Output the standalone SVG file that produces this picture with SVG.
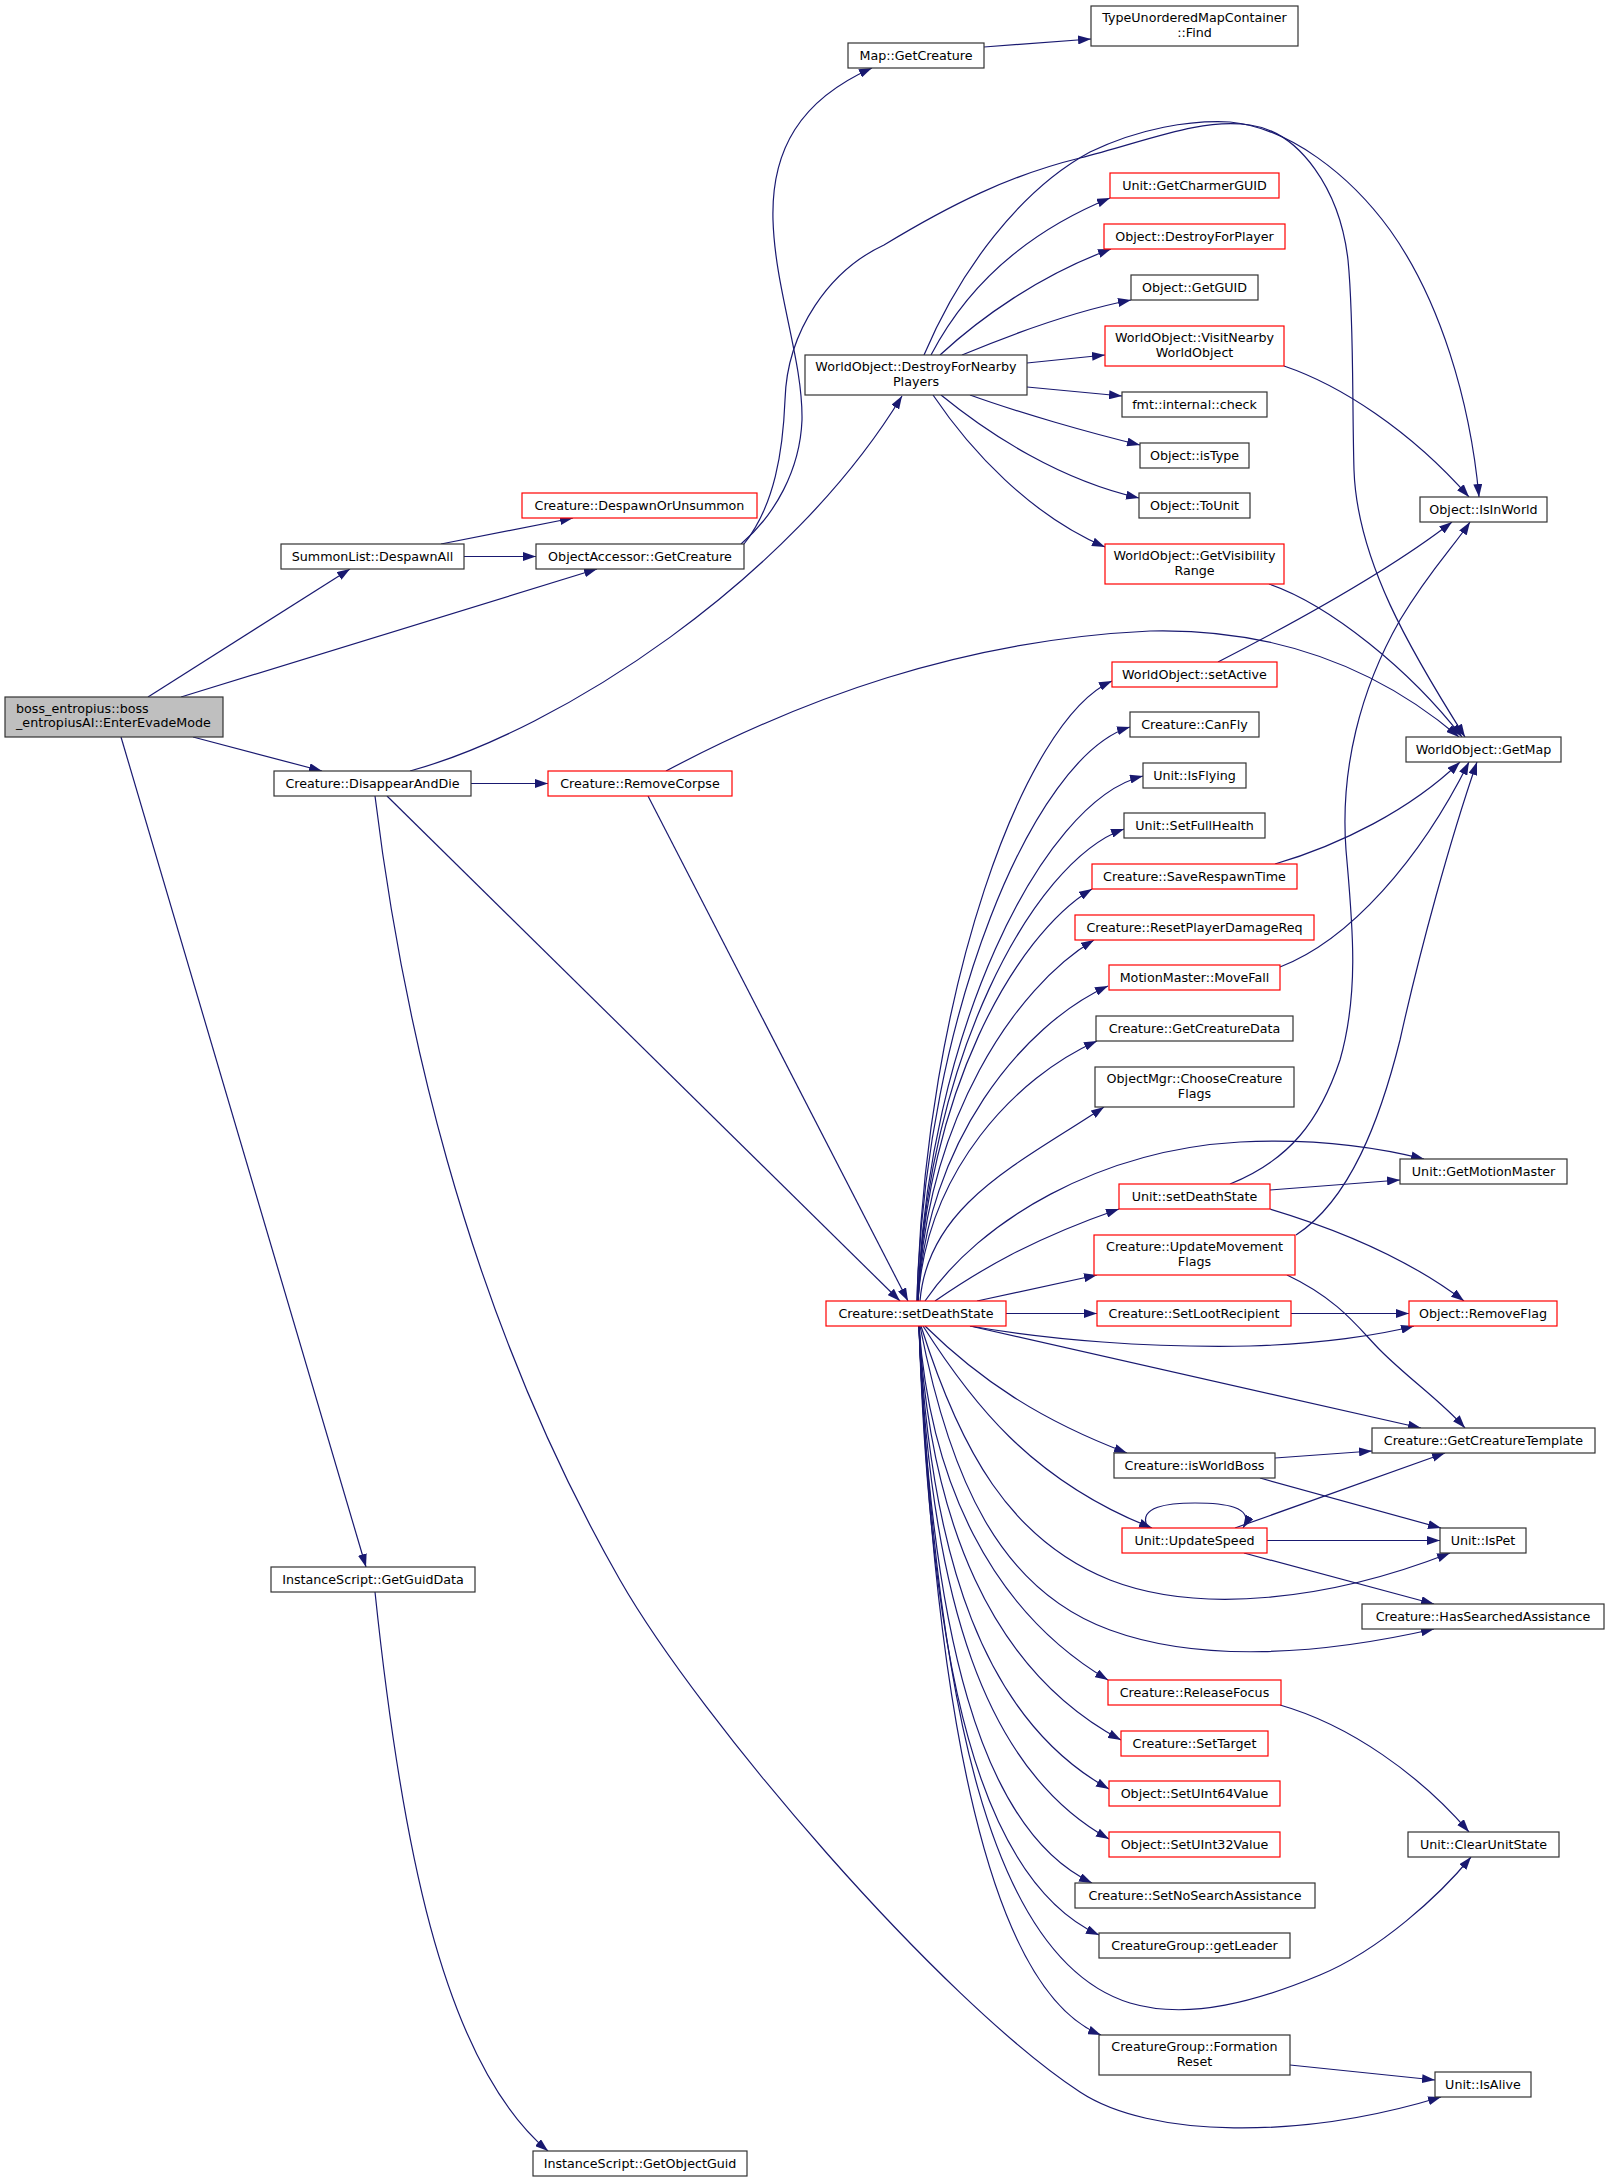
<svg xmlns="http://www.w3.org/2000/svg" width="1609" height="2183" viewBox="0 0 1609 2183">
<style>
.n rect{fill:#fff;stroke:#333;stroke-width:1.2}
.r rect{stroke:#f00}
.m rect{fill:#bfbfbf;stroke:#333;stroke-width:1.2}
text{font-family:"DejaVu Sans","Liberation Sans",sans-serif;font-size:12.7px;fill:#000;text-anchor:middle}
.m text{text-anchor:start}
.e path{fill:none;stroke:#191970;stroke-width:1.2;marker-end:url(#arr)}
</style>
<defs>
<marker id="arr" markerWidth="13" markerHeight="9" refX="13" refY="4.5" orient="auto" markerUnits="userSpaceOnUse"><path d="M0,0 L13,4.5 L0,9 z" fill="#191970"/></marker>
</defs>
<rect width="1609" height="2183" fill="#fff"/>
<g class="e" id="edges">
<path d="M148,697 L350,569"/>
<path d="M181,697 L597,569"/>
<path d="M193,737 L322,771"/>
<path d="M121,737 L366,1567"/>
<path d="M441,544 L573,518"/>
<path d="M464,556.5 L536,556.5"/>
<path d="M741,544 C775,515 800,470 802,420 C803,360 775,290 773,220 C771,150 800,100 872,68"/>
<path d="M744,544 C775,505 783,450 785,400 C787,330 830,270 884,245 C950,205 1010,175 1080,158 C1150,140 1200,118 1250,125 C1300,132 1340,190 1348,260 C1354,320 1352,400 1354,470 C1357,560 1410,650 1465,737"/>
<path d="M984,47 L1091,39"/>
<path d="M924,355 C960,270 1020,190 1090,152 C1140,128 1190,120 1230,122 C1290,128 1350,175 1390,230 C1440,300 1470,400 1479,497"/>
<path d="M931,355 C965,290 1020,235 1110,198"/>
<path d="M940,355 C980,318 1040,275 1111,249"/>
<path d="M962,355 C1010,335 1070,312 1131,300"/>
<path d="M1027,363 L1105,355"/>
<path d="M1027,387 L1122,396"/>
<path d="M970,395 C1020,413 1090,433 1140,445"/>
<path d="M941,395 C990,435 1060,480 1139,498"/>
<path d="M933,395 C970,450 1030,515 1105,547"/>
<path d="M1284,366 C1340,385 1410,430 1469,497"/>
<path d="M1269,584 C1330,605 1410,670 1462,737"/>
<path d="M1218,662 C1290,625 1390,570 1452,522"/>
<path d="M1230,1184 C1290,1160 1320,1120 1340,1060 C1360,990 1352,920 1346,850 C1340,770 1360,690 1400,620 C1430,570 1455,545 1470,522"/>
<path d="M410,771 C560,730 790,580 902,396"/>
<path d="M471,783.5 L548,783.5"/>
<path d="M387,796 L900,1301"/>
<path d="M648,796 L908,1301"/>
<path d="M666,771 C800,700 960,640 1150,631 C1280,628 1380,670 1459,737"/>
<path d="M375,796 C400,1000 460,1300 620,1580 C700,1720 940,2000 1080,2092 C1150,2138 1300,2140 1441,2097"/>
<path d="M375,1592 C400,1830 440,2060 548,2151"/>
<path d="M1275,864 C1340,845 1410,810 1460,762"/>
<path d="M1280,967 C1350,940 1420,860 1469,762"/>
<path d="M1296,1235 C1350,1200 1380,1120 1400,1040 C1420,950 1450,840 1477,762"/>
<path d="M1270,1190 L1400,1180"/>
<path d="M1270,1209 C1340,1230 1410,1260 1464,1301"/>
<path d="M1287,1275 C1340,1300 1360,1330 1380,1350 C1410,1380 1440,1400 1465,1428"/>
<path d="M1291,1313.5 L1409,1313.5"/>
<path d="M1275,1458 L1372,1451"/>
<path d="M1260,1478 L1441,1528"/>
<path d="M1235,1528 L1445,1453"/>
<path d="M1267,1540.5 L1440,1540.5"/>
<path d="M1244,1553 L1434,1604"/>
<path d="M1148,1528 C1136,1506 1170,1503 1195,1503 C1222,1503 1256,1506 1243,1528"/>
<path d="M1280,1705 C1350,1725 1420,1775 1469,1832"/>
<path d="M1290,2065 L1435,2080"/>
<path d="M917,1301 C925,991 1024,720 1112,681"/>
<path d="M917,1301 C925,1014 1034,756 1130,727"/>
<path d="M918,1301 C926,1038 1041,801 1143,776"/>
<path d="M918,1301 C926,1065 1031,862 1124,829"/>
<path d="M918,1301 C926,1095 1014,936 1092,889"/>
<path d="M918,1301 C926,1120 1015,987 1094,940"/>
<path d="M918,1301 C926,1143 1022,1025 1108,986"/>
<path d="M918,1301 C926,1171 1016,1077 1097,1041"/>
<path d="M920,1301 C928,1204 1020,1163 1104,1107"/>
<path d="M925,1301 C980,1220 1100,1150 1240,1142 C1320,1138 1380,1148 1424,1159"/>
<path d="M935,1301 C980,1270 1030,1240 1119,1209"/>
<path d="M977,1301 L1097,1275"/>
<path d="M1006,1313.5 L1097,1313.5"/>
<path d="M970,1326 C1050,1340 1150,1348 1250,1346 C1320,1344 1380,1335 1414,1326"/>
<path d="M970,1326 L1421,1428"/>
<path d="M925,1326 C980,1380 1040,1420 1127,1453"/>
<path d="M923,1326 C970,1400 1030,1480 1152,1528"/>
<path d="M921,1326 C960,1450 1010,1540 1110,1580 C1200,1615 1330,1600 1450,1553"/>
<path d="M920,1326 C950,1480 1000,1590 1110,1630 C1200,1663 1320,1655 1434,1629"/>
<path d="M919,1326 C930,1480 990,1610 1108,1680"/>
<path d="M919,1326 C930,1520 990,1670 1121,1740"/>
<path d="M919,1326 C930,1560 985,1720 1109,1789"/>
<path d="M919,1326 C930,1600 985,1770 1109,1839"/>
<path d="M919,1326 C930,1630 980,1830 1092,1883"/>
<path d="M919,1326 C930,1670 980,1880 1099,1935"/>
<path d="M919,1326 C935,1700 990,1960 1130,2003 C1190,2021 1260,2000 1320,1975 C1380,1950 1440,1895 1471,1857"/>
<path d="M919,1326 C935,1720 990,1990 1101,2035"/>
</g>
<g id="n1" class="m"><rect x="5" y="697" width="218" height="40"/><text x="16" y="713">boss_entropius::boss</text><text x="16" y="727">_entropiusAI::EnterEvadeMode</text></g>
<g id="n2" class="n"><rect x="281" y="544" width="183" height="25"/><text x="372.5" y="560.6">SummonList::DespawnAll</text></g>
<g id="n3" class="n r"><rect x="522" y="493" width="235" height="25"/><text x="639.5" y="509.6">Creature::DespawnOrUnsummon</text></g>
<g id="n4" class="n"><rect x="536" y="544" width="208" height="25"/><text x="640" y="560.6">ObjectAccessor::GetCreature</text></g>
<g id="n5" class="n"><rect x="848" y="43" width="136" height="25"/><text x="916" y="59.6">Map::GetCreature</text></g>
<g id="n6" class="n"><rect x="1091" y="6" width="207" height="40"/><text x="1194.5" y="22">TypeUnorderedMapContainer</text><text x="1194.5" y="36.5">::Find</text></g>
<g id="n7" class="n"><rect x="805" y="355" width="222" height="40"/><text x="916" y="371">WorldObject::DestroyForNearby</text><text x="916" y="385.5">Players</text></g>
<g id="n8" class="n r"><rect x="1110" y="173" width="169" height="25"/><text x="1194.5" y="189.6">Unit::GetCharmerGUID</text></g>
<g id="n9" class="n r"><rect x="1104" y="224" width="181" height="25"/><text x="1194.5" y="240.6">Object::DestroyForPlayer</text></g>
<g id="n10" class="n"><rect x="1131" y="275" width="127" height="25"/><text x="1194.5" y="291.6">Object::GetGUID</text></g>
<g id="n11" class="n r"><rect x="1105" y="326" width="179" height="40"/><text x="1194.5" y="342">WorldObject::VisitNearby</text><text x="1194.5" y="356.5">WorldObject</text></g>
<g id="n12" class="n"><rect x="1122" y="392" width="145" height="25"/><text x="1194.5" y="408.6">fmt::internal::check</text></g>
<g id="n13" class="n"><rect x="1140" y="443" width="109" height="25"/><text x="1194.5" y="459.6">Object::isType</text></g>
<g id="n14" class="n"><rect x="1139" y="493" width="111" height="25"/><text x="1194.5" y="509.6">Object::ToUnit</text></g>
<g id="n15" class="n"><rect x="1420" y="497" width="127" height="25"/><text x="1483.5" y="513.6">Object::IsInWorld</text></g>
<g id="n16" class="n r"><rect x="1105" y="544" width="179" height="40"/><text x="1194.5" y="560">WorldObject::GetVisibility</text><text x="1194.5" y="574.5">Range</text></g>
<g id="n17" class="n"><rect x="274" y="771" width="197" height="25"/><text x="372.5" y="787.6">Creature::DisappearAndDie</text></g>
<g id="n18" class="n r"><rect x="548" y="771" width="184" height="25"/><text x="640" y="787.6">Creature::RemoveCorpse</text></g>
<g id="n19" class="n r"><rect x="1112" y="662" width="165" height="25"/><text x="1194.5" y="678.6">WorldObject::setActive</text></g>
<g id="n20" class="n"><rect x="1130" y="712" width="129" height="25"/><text x="1194.5" y="728.6">Creature::CanFly</text></g>
<g id="n21" class="n"><rect x="1143" y="763" width="103" height="25"/><text x="1194.5" y="779.6">Unit::IsFlying</text></g>
<g id="n22" class="n"><rect x="1124" y="813" width="141" height="25"/><text x="1194.5" y="829.6">Unit::SetFullHealth</text></g>
<g id="n23" class="n r"><rect x="1092" y="864" width="205" height="25"/><text x="1194.5" y="880.6">Creature::SaveRespawnTime</text></g>
<g id="n24" class="n r"><rect x="1075" y="915" width="239" height="25"/><text x="1194.5" y="931.6">Creature::ResetPlayerDamageReq</text></g>
<g id="n25" class="n r"><rect x="1109" y="965" width="171" height="25"/><text x="1194.5" y="981.6">MotionMaster::MoveFall</text></g>
<g id="n26" class="n"><rect x="1096" y="1016" width="197" height="25"/><text x="1194.5" y="1032.6">Creature::GetCreatureData</text></g>
<g id="n27" class="n"><rect x="1095" y="1067" width="199" height="40"/><text x="1194.5" y="1083">ObjectMgr::ChooseCreature</text><text x="1194.5" y="1097.5">Flags</text></g>
<g id="n28" class="n"><rect x="1406" y="737" width="155" height="25"/><text x="1483.5" y="753.6">WorldObject::GetMap</text></g>
<g id="n29" class="n"><rect x="1400" y="1159" width="167" height="25"/><text x="1483.5" y="1175.6">Unit::GetMotionMaster</text></g>
<g id="n30" class="n r"><rect x="1119" y="1184" width="151" height="25"/><text x="1194.5" y="1200.6">Unit::setDeathState</text></g>
<g id="n31" class="n r"><rect x="1094" y="1235" width="201" height="40"/><text x="1194.5" y="1251">Creature::UpdateMovement</text><text x="1194.5" y="1265.5">Flags</text></g>
<g id="n32" class="n r"><rect x="1097" y="1301" width="194" height="25"/><text x="1194" y="1317.6">Creature::SetLootRecipient</text></g>
<g id="n33" class="n r"><rect x="1409" y="1301" width="148" height="25"/><text x="1483" y="1317.6">Object::RemoveFlag</text></g>
<g id="n34" class="n r"><rect x="826" y="1301" width="180" height="25"/><text x="916" y="1317.6">Creature::setDeathState</text></g>
<g id="n35" class="n"><rect x="1372" y="1428" width="223" height="25"/><text x="1483.5" y="1444.6">Creature::GetCreatureTemplate</text></g>
<g id="n36" class="n"><rect x="1114" y="1453" width="161" height="25"/><text x="1194.5" y="1469.6">Creature::isWorldBoss</text></g>
<g id="n37" class="n r"><rect x="1122" y="1528" width="145" height="25"/><text x="1194.5" y="1544.6">Unit::UpdateSpeed</text></g>
<g id="n38" class="n"><rect x="1440" y="1528" width="86" height="25"/><text x="1483" y="1544.6">Unit::IsPet</text></g>
<g id="n39" class="n"><rect x="1362" y="1604" width="242" height="25"/><text x="1483" y="1620.6">Creature::HasSearchedAssistance</text></g>
<g id="n40" class="n"><rect x="271" y="1567" width="204" height="25"/><text x="373" y="1583.6">InstanceScript::GetGuidData</text></g>
<g id="n41" class="n"><rect x="533" y="2151" width="214" height="25"/><text x="640" y="2167.6">InstanceScript::GetObjectGuid</text></g>
<g id="n42" class="n r"><rect x="1108" y="1680" width="173" height="25"/><text x="1194.5" y="1696.6">Creature::ReleaseFocus</text></g>
<g id="n43" class="n r"><rect x="1121" y="1731" width="147" height="25"/><text x="1194.5" y="1747.6">Creature::SetTarget</text></g>
<g id="n44" class="n r"><rect x="1109" y="1781" width="171" height="25"/><text x="1194.5" y="1797.6">Object::SetUInt64Value</text></g>
<g id="n45" class="n r"><rect x="1109" y="1832" width="171" height="25"/><text x="1194.5" y="1848.6">Object::SetUInt32Value</text></g>
<g id="n46" class="n"><rect x="1075" y="1883" width="240" height="25"/><text x="1195" y="1899.6">Creature::SetNoSearchAssistance</text></g>
<g id="n47" class="n"><rect x="1099" y="1933" width="191" height="25"/><text x="1194.5" y="1949.6">CreatureGroup::getLeader</text></g>
<g id="n48" class="n"><rect x="1408" y="1832" width="151" height="25"/><text x="1483.5" y="1848.6">Unit::ClearUnitState</text></g>
<g id="n49" class="n"><rect x="1099" y="2035" width="191" height="40"/><text x="1194.5" y="2051">CreatureGroup::Formation</text><text x="1194.5" y="2065.5">Reset</text></g>
<g id="n50" class="n"><rect x="1435" y="2072" width="96" height="25"/><text x="1483" y="2088.6">Unit::IsAlive</text></g>
</svg>
